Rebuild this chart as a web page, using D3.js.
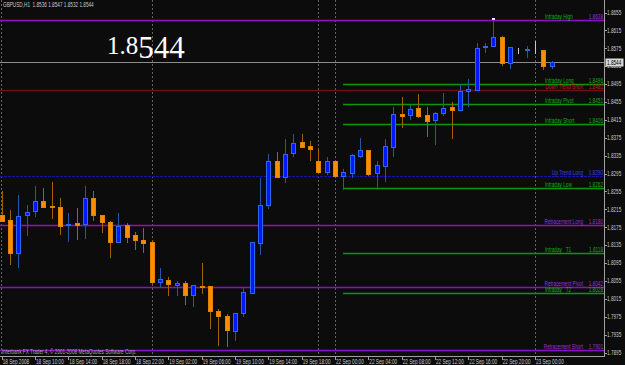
<!DOCTYPE html>
<html>
<head>
<meta charset="utf-8">
<script src="https://cdn.jsdelivr.net/npm/d3@7"></script>
<style>
  html, body { margin: 0; padding: 0; background: #0c0c0c; overflow: hidden; }
  svg { display: block; font-family: "Liberation Sans", Arial, sans-serif; }
</style>
</head>
<body>
<div id="chart"></div>
<script>
// GBPUSD H1, 18 Sep 2008 06:00 .. 23 Sep 2008 02:00
const symbol = 'GBPUSD,H1'
const opens  = [1.8202, 1.8191, 1.8118, 1.8202, 1.8211, 1.8234, 1.8223, 1.8220, 1.8179, 1.8185,
                1.8182, 1.8241, 1.8202, 1.8187, 1.8141, 1.8179, 1.8158, 1.8147, 1.8141, 1.8053,
                1.8057, 1.8047, 1.8050, 1.8023, 1.8044, 1.8044, 1.7988, 1.7977, 1.7944, 1.7983,
                1.8029, 1.8139, 1.8225, 1.8323, 1.8287, 1.8340, 1.8365, 1.8356, 1.8324, 1.8299,
                1.8324, 1.8290, 1.8297, 1.8335, 1.8347, 1.8296, 1.8312, 1.8355, 1.8427, 1.8425,
                1.8442, 1.8425, 1.8415, 1.8430, 1.8443, 1.8436, 1.8479, 1.8482, 1.8577, 1.8579,
                1.8601, 1.8541, 1.8573, 1.8572, 1.8571, 1.8571, 1.8536]
const highs  = [1.8255, 1.8214, 1.8248, 1.8225, 1.8267, 1.8263, 1.8276, 1.8240, 1.8207, 1.8219,
                1.8267, 1.8256, 1.8202, 1.8189, 1.8207, 1.8184, 1.8164, 1.8173, 1.8147, 1.8084,
                1.8064, 1.8055, 1.8055, 1.8045, 1.8095, 1.8044, 1.7992, 1.7981, 1.7983, 1.8041,
                1.8141, 1.8284, 1.8338, 1.8343, 1.8372, 1.8384, 1.8383, 1.8368, 1.8351, 1.8332,
                1.8324, 1.8305, 1.8339, 1.8375, 1.8347, 1.8324, 1.8372, 1.8443, 1.8466, 1.8448,
                1.8473, 1.8443, 1.8433, 1.8475, 1.8455, 1.8495, 1.8506, 1.8586, 1.8586, 1.8638,
                1.8602, 1.8577, 1.8575, 1.8579, 1.8591, 1.8571, 1.8547]
const lows   = [1.8189, 1.8093, 1.8087, 1.8158, 1.8200, 1.8221, 1.8196, 1.8160, 1.8144, 1.8149,
                1.8152, 1.8191, 1.8165, 1.8109, 1.8141, 1.8141, 1.8127, 1.8120, 1.8050, 1.8042,
                1.8023, 1.8023, 1.8004, 1.7998, 1.8029, 1.7950, 1.7912, 1.7910, 1.7923, 1.7977,
                1.8029, 1.8115, 1.8219, 1.8287, 1.8277, 1.8335, 1.8354, 1.8326, 1.8299, 1.8294,
                1.8288, 1.8261, 1.8288, 1.8331, 1.8292, 1.8261, 1.8279, 1.8335, 1.8400, 1.8418,
                1.8421, 1.8380, 1.8360, 1.8426, 1.8375, 1.8436, 1.8446, 1.8482, 1.8567, 1.8579,
                1.8537, 1.8532, 1.8564, 1.8555, 1.8564, 1.8529, 1.8532]
const closes = [1.8190, 1.8117, 1.8200, 1.8209, 1.8234, 1.8221, 1.8220, 1.8178, 1.8183, 1.8180,
                1.8240, 1.8203, 1.8187, 1.8141, 1.8178, 1.8153, 1.8147, 1.8139, 1.8052, 1.8059,
                1.8048, 1.8050, 1.8023, 1.8045, 1.8042, 1.7987, 1.7977, 1.7945, 1.7983, 1.8030,
                1.8141, 1.8224, 1.8323, 1.8287, 1.8339, 1.8363, 1.8354, 1.8351, 1.8299, 1.8322,
                1.8289, 1.8298, 1.8337, 1.8347, 1.8294, 1.8314, 1.8356, 1.8428, 1.8424, 1.8440,
                1.8424, 1.8413, 1.8431, 1.8441, 1.8438, 1.8480, 1.8483, 1.8575, 1.8580, 1.8600,
                1.8543, 1.8577, 1.8573, 1.8574, 1.8571, 1.8535, 1.8544]

const tickBars   = [0, 4, 8, 12, 16, 20, 24, 28, 32, 36, 40, 44, 48, 52, 56, 60, 64]
const tickLabels = ['18 Sep 2008', '18 Sep 10:00', '18 Sep 14:00', '18 Sep 18:00', '18 Sep 22:00',
                    '19 Sep 02:00', '19 Sep 06:00', '19 Sep 10:00', '19 Sep 14:00', '19 Sep 18:00',
                    '22 Sep 00:00', '22 Sep 04:00', '22 Sep 08:00', '22 Sep 12:00', '22 Sep 16:00',
                    '22 Sep 20:00', '23 Sep 00:00']
const separatorBars = [18, 38, 40, 64]
const priceTicks = [1.8655, 1.8615, 1.8575, 1.8535, 1.8495, 1.8455, 1.8415, 1.8375, 1.8335, 1.8295,
                    1.8255, 1.8215, 1.8175, 1.8135, 1.8095, 1.8055, 1.8015, 1.7975, 1.7935, 1.7895]

const levelNames  = ['Intraday High', 'Intraday Long', 'Down Trend Short', 'Intraday Pivot', 'Intraday Short',
                     'Up Trend Long', 'Intraday Low', 'Retracement Long', 'Intraday   T1', 'Retracement Pivot',
                     'Intraday   T2', 'Retracement Short']
const levelValues = [1.8638, 1.8496, 1.8481, 1.8451, 1.8406, 1.8290, 1.8262, 1.8180, 1.8118, 1.8042, 1.8028, 1.7901]
const levelGroups = ['high', 'intraday', 'down', 'intraday', 'intraday', 'up', 'intraday', 'retrace',
                     'intraday', 'retrace', 'intraday', 'retrace']
const intradayStartBar = 41
const markerBars = [59]

makeChart()

function makeChart() {
    const W = 625, H = 365
    const plotRight = 604, plotBottom = 356
    const n = closes.length
    const px = v => Math.round(v) + 0.5
    // terminal font is a narrow bitmap face, squeeze a normal sans to match
    const squeeze = (xx, yy) => `translate(${xx},${yy}) scale(0.72,1)`

    x = d3.scaleLinear().domain([-0.2, 72.28]).range([0, plotRight])
    y = d3.scaleLinear().domain([1.7895, 1.8655]).range([352.5, 12.5])

    const lineColor = { high: '#8a10c8', intraday: '#0c960c', down: '#6a1010', up: '#1616a0', retrace: '#8a10c8' }
    const textColor = { high: '#9a34d4', intraday: '#16ae16', down: '#c81e1e', up: '#2c44ea', retrace: '#9a34d4' }

    let svg = d3.select('#chart').append('svg')
        .attr('width', W)
        .attr('height', H)
        .attr('viewBox', `0 0 ${W} ${H}`)

    svg.append('rect').attr('width', W).attr('height', H).attr('fill', '#0c0c0c')

    // period separators
    svg.append('g').selectAll('line')
        .data([1.5].concat(separatorBars.map(b => px(x(b)))))
        .join('line')
        .attr('x1', d => d).attr('x2', d => d)
        .attr('y1', 0).attr('y2', plotBottom)
        .attr('stroke', '#626262')
        .attr('stroke-dasharray', '2,2')

    // level lines
    const levels = levelValues.map((v, i) => ({ v, name: levelNames[i], group: levelGroups[i] }))
    svg.append('g').selectAll('line')
        .data(levels)
        .join('line')
        .attr('x1', d => d.group === 'intraday' ? Math.round(x(intradayStartBar)) : 0)
        .attr('x2', plotRight)
        .attr('y1', d => px(y(d.v)))
        .attr('y2', d => px(y(d.v)))
        .attr('stroke', d => lineColor[d.group])
        .attr('stroke-width', d => d.group === 'up' ? 1 : 1.4)
        .attr('stroke-dasharray', d => d.group === 'up' ? '3,1' : null)

    // current price line
    const last = n - 1
    svg.append('line')
        .attr('x1', 0).attr('x2', plotRight)
        .attr('y1', px(y(closes[last]))).attr('y2', px(y(closes[last])))
        .attr('stroke', '#8c8c8c')

    // candles
    const bars = d3.range(n).map(i => ({ i, o: opens[i], h: highs[i], l: lows[i], c: closes[i] }))
    const upWick = '#2157a8', downWick = '#a35f00'
    let g = svg.append('g')
    g.selectAll('.wick').data(bars).join('line')
        .attr('class', 'wick')
        .attr('x1', d => px(x(d.i))).attr('x2', d => px(x(d.i)))
        .attr('y1', d => Math.round(y(d.h))).attr('y2', d => Math.round(y(d.l)) + 1)
        .attr('stroke', d => d.o === d.c ? '#c8c8c8' : d.c > d.o ? upWick : downWick)

    g.selectAll('.body').data(bars).join('rect')
        .attr('class', 'body')
        .attr('x', d => Math.round(x(d.i)) - 1.5)
        .attr('width', 4)
        .attr('y', d => px(y(Math.max(d.o, d.c))))
        .attr('height', d => Math.max(0, Math.round(y(Math.min(d.o, d.c))) - Math.round(y(Math.max(d.o, d.c)))))
        .attr('fill', d => d.o === d.c ? 'none' : d.c > d.o ? '#0018ff' : '#ff8c00')
        .attr('stroke', d => d.o === d.c ? '#c8c8c8' : d.c > d.o ? '#2d68e8' : '#e08400')

    g.selectAll('.marker').data(markerBars).join('rect')
        .attr('class', 'marker')
        .attr('x', d => Math.round(x(d)) - 1)
        .attr('y', d => Math.round(y(highs[d])) - 2)
        .attr('width', 3).attr('height', 2)
        .attr('fill', '#f0e0f0')

    // level labels
    let lab = svg.append('g').attr('font-size', '6.5px')
    lab.selectAll('.lname').data(levels).join('text')
        .attr('class', 'lname')
        .attr('transform', d => squeeze(d.group === 'intraday' || d.group === 'high' ? 545 : 583, Math.round(y(d.v)) - 1))
        .attr('text-anchor', d => d.group === 'intraday' || d.group === 'high' ? 'start' : 'end')
        .attr('fill', d => d.group === 'high' ? textColor.intraday : textColor[d.group])
        .style('white-space', 'pre')
        .text(d => d.name)
    lab.selectAll('.lval').data(levels).join('text')
        .attr('class', 'lval')
        .attr('transform', d => squeeze(plotRight - 1, Math.round(y(d.v)) - 1))
        .attr('text-anchor', 'end')
        .attr('fill', d => textColor[d.group])
        .text(d => d.v.toFixed(4))

    // frame
    svg.append('line').attr('x1', plotRight + 0.5).attr('x2', plotRight + 0.5)
        .attr('y1', 0).attr('y2', plotBottom).attr('stroke', '#a0a0a0')
    svg.append('line').attr('x1', 0).attr('x2', plotRight + 1)
        .attr('y1', plotBottom + 0.5).attr('y2', plotBottom + 0.5).attr('stroke', '#a0a0a0')

    // price axis
    let yAxis = svg.append('g').attr('font-size', '6.5px').attr('fill', '#c8c8c8')
    yAxis.selectAll('line').data(priceTicks).join('line')
        .attr('x1', plotRight).attr('x2', plotRight + 3)
        .attr('y1', d => px(y(d))).attr('y2', d => px(y(d)))
        .attr('stroke', '#a0a0a0')
    yAxis.selectAll('text').data(priceTicks).join('text')
        .attr('transform', d => squeeze(plotRight + 3, y(d) + 2.3))
        .text(d => d.toFixed(4))

    // current price box
    svg.append('rect')
        .attr('x', plotRight + 1.5).attr('y', Math.round(y(closes[last])) - 3.5)
        .attr('width', 18).attr('height', 8)
        .attr('fill', '#d8d8d8')
    svg.append('text')
        .attr('transform', squeeze(plotRight + 3, y(closes[last]) + 2.5))
        .attr('font-size', '6.5px').attr('fill', '#000')
        .text(closes[last].toFixed(4))

    // time axis
    let xAxis = svg.append('g').attr('font-size', '6.5px').attr('fill', '#c8c8c8')
    xAxis.selectAll('line').data(tickBars).join('line')
        .attr('x1', d => px(x(d))).attr('x2', d => px(x(d)))
        .attr('y1', plotBottom).attr('y2', plotBottom + 4)
        .attr('stroke', '#a0a0a0')
    xAxis.selectAll('text').data(tickBars).join('text')
        .attr('transform', d => squeeze(x(d) + 1, plotBottom + 7.5))
        .text((d, i) => tickLabels[i])

    // header and big price
    svg.append('text')
        .attr('transform', squeeze(3, 7))
        .attr('font-size', '6.5px').attr('fill', '#c8c8c8')
        .style('white-space', 'pre')
        .text(`${symbol}  ${opens[last].toFixed(4)} ${highs[last].toFixed(4)} ${lows[last].toFixed(4)} ${closes[last].toFixed(4)}`)

    const big = closes[last].toFixed(4)
    let bigText = svg.append('text')
        .attr('x', 107).attr('y', 54)
        .attr('font-family', '"Liberation Serif", "DejaVu Serif", serif')
        .attr('fill', '#ffffff')
    bigText.append('tspan').attr('font-size', '25px').text(big.slice(0, 3))
    bigText.append('tspan').attr('font-size', '31px').attr('dy', 4).text(big.slice(3))

    svg.append('text')
        .attr('transform', squeeze(2, plotBottom - 2))
        .attr('font-size', '6.5px').attr('fill', '#a8a8a8')
        .text('Interbank FX Trader 4, © 2001-2008 MetaQuotes Software Corp.')
}
</script>
</body>
</html>
